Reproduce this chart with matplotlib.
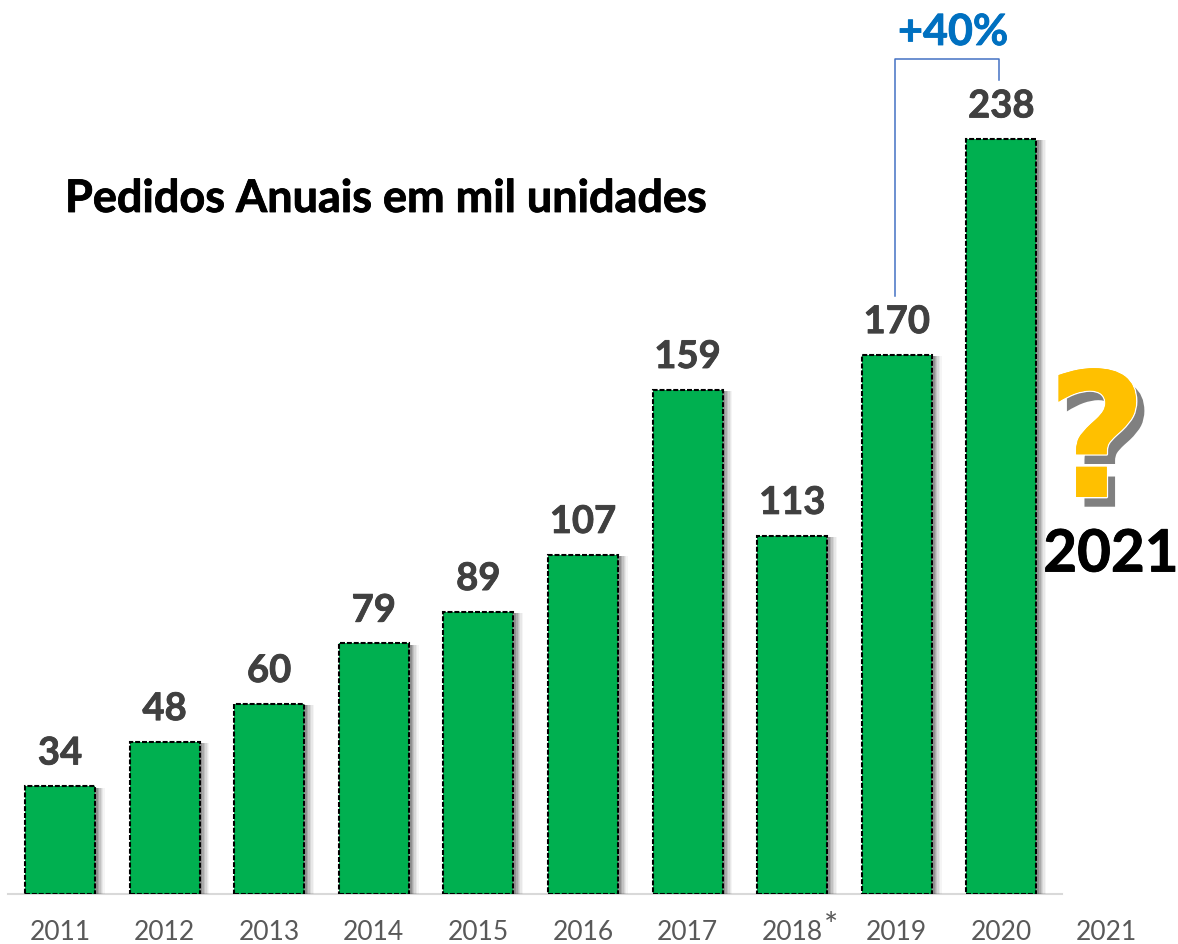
import matplotlib
matplotlib.use('Agg')
import matplotlib.pyplot as plt
import matplotlib.patheffects as pe

anos = ['2011', '2012', '2013', '2014', '2015', '2016', '2017', '2018', '2019', '2020', '2021']
pedidos = [34, 48, 60, 79, 89, 107, 159, 113, 170, 238]

W, H = 1178, 944
plt.rcParams['font.family'] = ['Lato', 'Open Sans', 'DejaVu Sans']

fig = plt.figure(figsize=(W / 100, H / 100), dpi=100)
# eixo com a linha de base em y=894 px, ate x=1170 para caber o rotulo de 2021
ax = fig.add_axes([8 / W, 1 - 894 / H, (1170 - 8) / W, 894 / H])
esp = 104.6


def grosso(cor):
    # Lato bold fica mais fino que o original, engrossa um pouco
    return [pe.withStroke(linewidth=0.6, foreground=cor)]


# sombra suave a direita das barras
sombra = [pe.SimplePatchShadow(offset=(o, -1), shadow_rgbFace='black', alpha=a)
          for o, a in [(7, 0.04), (6, 0.05), (5, 0.07), (4, 0.09), (3, 0.12), (2, 0.15)]]
x = list(range(len(pedidos)))
barras = ax.bar(x, pedidos, width=70 / esp, color='#00B050', zorder=3)
for b in barras:
    b.set_path_effects(sombra + [pe.Normal()])
ax.bar(x, pedidos, width=70 / esp, fill=False, edgecolor='black', linewidth=1.5,
       linestyle=(0, (2.4, 0.9)), zorder=4)

for i, v in zip(x, pedidos):
    ax.annotate(str(v), (i, v), xytext=(0, 23.5), textcoords='offset points', ha='center',
                va='center', fontsize=27.5, fontweight='bold', color='#404040', zorder=5,
                path_effects=grosso('#404040'))

for s in ['top', 'left', 'right']:
    ax.spines[s].set_visible(False)
ax.spines['bottom'].set_color('#D9D9D9')
ax.spines['bottom'].set_linewidth(1.5)
ax.set_yticks([])
ax.set_xticks(range(len(anos)), anos)
ax.tick_params(axis='x', length=0, pad=18.5, labelsize=19, labelcolor='#595959')
ax.patch.set_alpha(0)
# limites depois dos ticks, senao o set_xticks alarga o eixo
ax.set_xlim((8 - 60) / esp, (1170 - 60) / esp)
ax.set_ylim(0, 894 / 3.172)
ax.spines['bottom'].set_bounds((8 - 60) / esp, (1062 - 60) / esp)


def fx(px):
    return px / W


def fy(py):
    return 1 - py / H


fig.text(fx(65), fy(199), 'Pedidos Anuais em mil unidades', fontsize=32.4, fontweight='bold',
         color='black', ha='left', va='center', path_effects=grosso('black'))
fig.text(fx(953), fy(32), '+40%', fontsize=31, fontweight='bold', color='#0070C0',
         ha='center', va='center', path_effects=grosso('#0070C0'))
fig.text(fx(1111), fy(555), '2021', fontsize=42, fontweight='bold', color='black',
         ha='center', va='center', path_effects=grosso('black'))
fig.text(fx(831), fy(936), '*', fontsize=24, color='#595959', ha='center', va='baseline')

# ponto de interrogacao com contorno branco e sombra cinza
t = fig.text(fx(1097), fy(497), '?', fontsize=125, fontweight='bold', color='#FFC000',
             family='DejaVu Sans', ha='center', va='baseline')
t.set_path_effects([pe.SimplePatchShadow(offset=(6, -7), shadow_rgbFace='#808080', alpha=1),
                    pe.withStroke(linewidth=2, foreground='white'), pe.Normal()])

# colchete do +40%
fig.add_artist(plt.Line2D([fx(895), fx(895), fx(999), fx(999)],
                          [fy(296), fy(59), fy(59), fy(80)],
                          color='#4472C4', linewidth=1.1))

fig.savefig('out.png', dpi=100)
